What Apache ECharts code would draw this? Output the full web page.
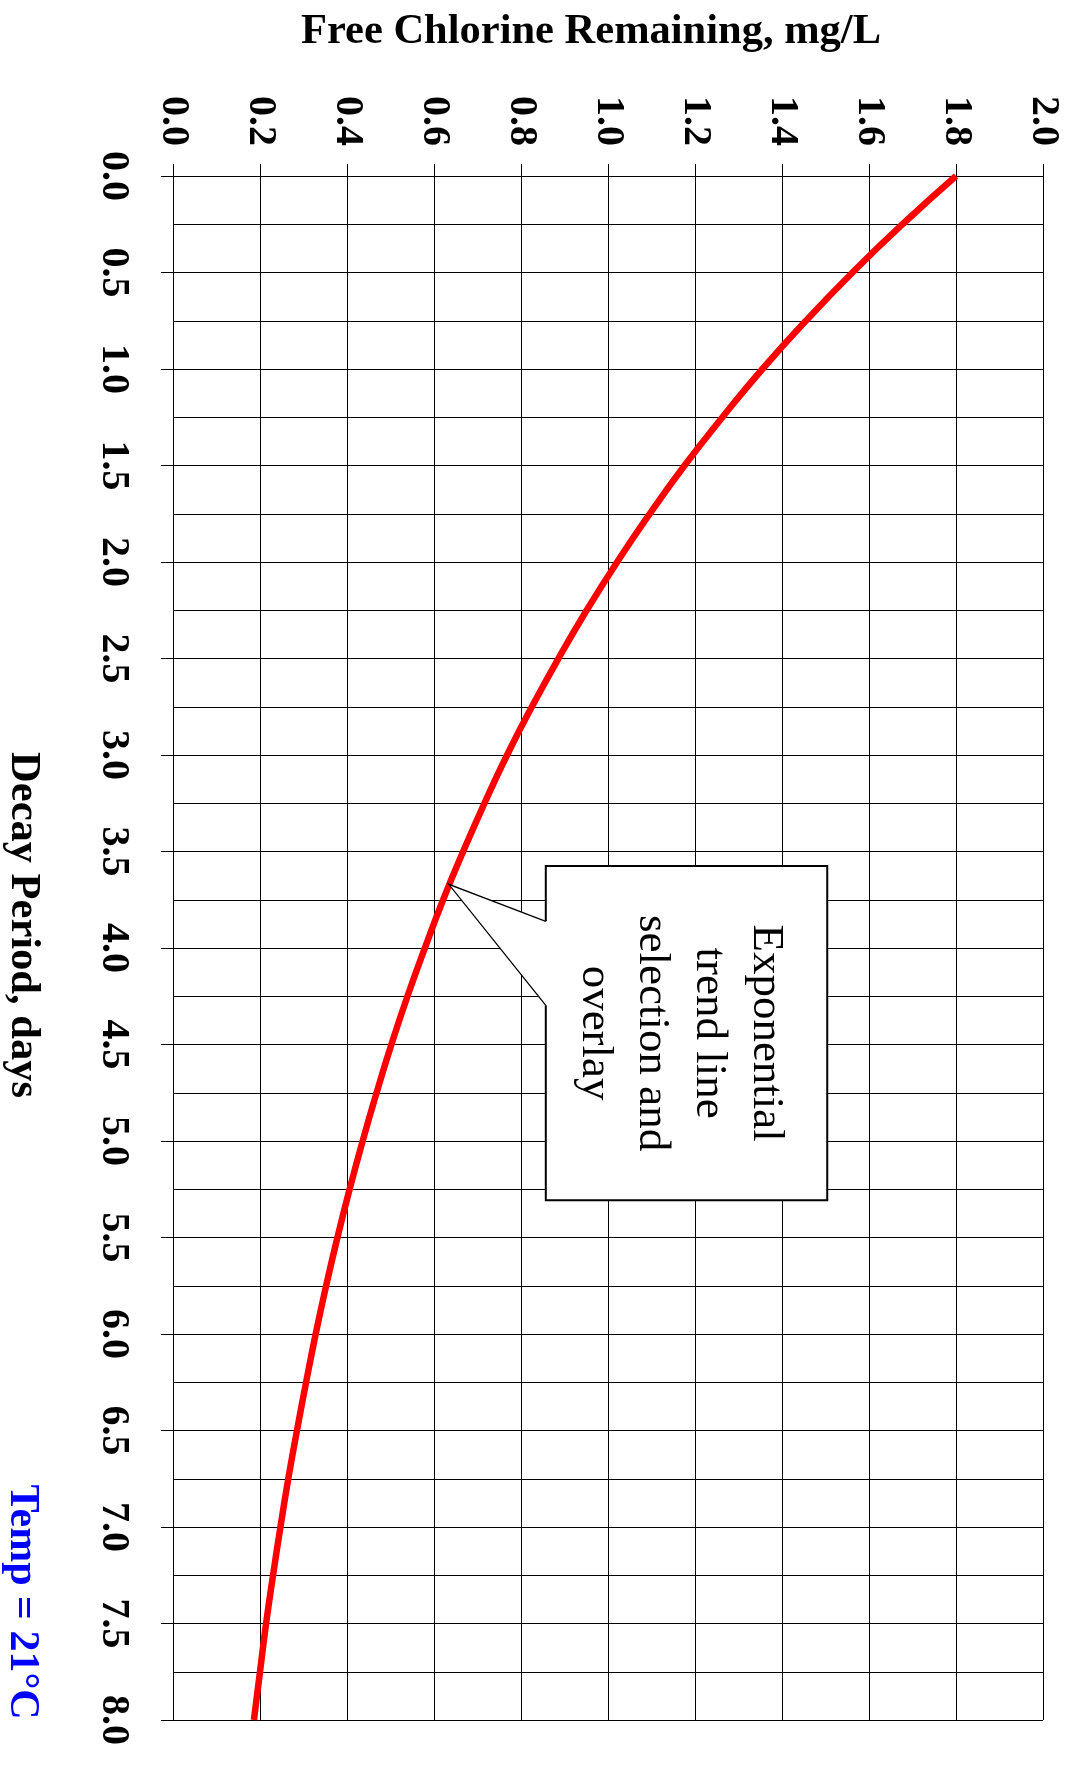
<!DOCTYPE html>
<html>
<head>
<meta charset="utf-8">
<script src="https://cdn.jsdelivr.net/npm/echarts@6/dist/echarts.min.js"></script>
<style>
  html, body { margin: 0; padding: 0; background: #fff; }
  #chart { width: 1069px; height: 1765px; }
</style>
</head>
<body>
<div id="chart"></div>
<script>
// Decay period (days) and free chlorine remaining (mg/L) along the trend line
const decayDays = [0, 0.25, 0.5, 0.75, 1.0, 1.25, 1.5, 1.75, 2.0, 2.25, 2.5, 2.75, 3.0, 3.25, 3.5, 3.75,
                   4.0, 4.25, 4.5, 4.75, 5.0, 5.25, 5.5, 5.75, 6.0, 6.25, 6.5, 6.75, 7.0, 7.25, 7.5, 7.75, 8.0];
const chlorine  = [1.800, 1.677, 1.562, 1.455, 1.355, 1.263, 1.176, 1.096, 1.021, 0.951, 0.886, 0.825, 0.768, 0.716, 0.667, 0.621,
                   0.579, 0.539, 0.502, 0.468, 0.436, 0.406, 0.378, 0.352, 0.328, 0.306, 0.285, 0.265, 0.247, 0.230, 0.214, 0.200, 0.186];

// Axis ranges and tick steps
const chlorineTicks = { min: 0, max: 2.0, step: 0.2 };
const dayTicks = { min: 0, max: 8.0, step: 0.5 };

// Callout text and where it points to (in data units: [mg/L, days])
const calloutLines = ['Exponential', 'trend line', 'selection and', 'overlay'];
const calloutTip = [0.634, 3.67];
const calloutBox = { left: 0.857, right: 1.504, top: 3.575, bottom: 5.307, notchTop: 3.862, notchBottom: 4.297 };

const titleText = 'Free Chlorine Remaining, mg/L';
const daysText = 'Decay Period, days';
const tempText = 'Temp = 21°C';

const SERIF = '"Liberation Serif", "Times New Roman", serif';
const chart = echarts.init(document.getElementById('chart'), null, { renderer: 'canvas' });

const gridLine = { color: '#000', width: 1 };

chart.setOption({
  backgroundColor: '#fff',
  animation: false,
  grid: { left: 173, top: 176, right: 26, bottom: 45, containLabel: false },
  xAxis: {
    type: 'value',
    position: 'top',
    min: chlorineTicks.min, max: chlorineTicks.max, interval: chlorineTicks.step,
    axisLine: { show: true, lineStyle: gridLine },
    axisTick: { show: true, length: 12, lineStyle: gridLine },
    splitLine: { show: true, lineStyle: gridLine },
    axisLabel: {
      rotate: -90, margin: 30,
      formatter: v => v.toFixed(1),
      fontFamily: SERIF, fontWeight: 'bold', fontSize: 40, color: '#000'
    }
  },
  yAxis: {
    type: 'value',
    inverse: true,
    min: dayTicks.min, max: dayTicks.max, interval: dayTicks.step,
    axisLine: { show: true, lineStyle: gridLine },
    axisTick: { show: true, length: 12, lineStyle: gridLine },
    splitLine: { show: true, lineStyle: gridLine },
    minorTick: { show: false, splitNumber: 2 },
    minorSplitLine: { show: true, lineStyle: gridLine },
    axisLabel: {
      rotate: -90, margin: 40,
      formatter: v => v.toFixed(1),
      fontFamily: SERIF, fontWeight: 'bold', fontSize: 40, color: '#000'
    }
  },
  series: [{
    type: 'line',
    data: decayDays.map((d, i) => [chlorine[i], d]),
    smooth: true,
    showSymbol: false,
    lineStyle: { color: '#ff0000', width: 6.5, cap: 'butt' },
    z: 5
  }]
});

// Callout and free-standing labels, placed through the chart's own scales
function px(v, d) { return chart.convertToPixel({ gridIndex: 0 }, [v, d]); }
const tip = px(calloutTip[0], calloutTip[1]);
const tl = px(calloutBox.left, calloutBox.top);
const br = px(calloutBox.right, calloutBox.bottom);
const nTop = px(calloutBox.left, calloutBox.notchTop);
const nBot = px(calloutBox.left, calloutBox.notchBottom);
const L = tl[0], T = tl[1], R = br[0], B = br[1];

chart.setOption({
  graphic: [
    {
      type: 'polygon', z: 10,
      shape: { points: [[L, T], [R, T], [R, B], [L, B], [L, nBot[1]], tip, [L, nTop[1]]] },
      style: { fill: '#fff', stroke: null }
    },
    {
      type: 'polyline', z: 11,
      shape: { points: [[L, nTop[1]], [L, T], [R, T], [R, B], [L, B], [L, nBot[1]]] },
      style: { stroke: '#000', lineWidth: 2, fill: null }
    },
    {
      type: 'polyline', z: 11,
      shape: { points: [[L, nBot[1]], tip, [L, nTop[1]]] },
      style: { stroke: '#000', lineWidth: 1.3, fill: null }
    },
    {
      type: 'text', z: 12,
      x: (L + R) / 2 - 6, y: (T + B) / 2,
      rotation: -Math.PI / 2,
      style: {
        text: calloutLines.join('\n'),
        fontFamily: SERIF, fontSize: 45, lineHeight: 57,
        fill: '#000', align: 'center', verticalAlign: 'middle'
      }
    },
    {
      type: 'text',
      x: 591, y: 32,
      style: {
        text: titleText, fontFamily: SERIF, fontWeight: 'bold', fontSize: 42.5,
        fill: '#000', align: 'center', verticalAlign: 'middle'
      }
    },
    {
      type: 'text',
      x: 23, y: 925,
      rotation: -Math.PI / 2,
      style: {
        text: daysText, fontFamily: SERIF, fontWeight: 'bold', fontSize: 42.5,
        fill: '#000', align: 'center', verticalAlign: 'middle'
      }
    },
    {
      type: 'text',
      x: 22, y: 1602,
      rotation: -Math.PI / 2,
      style: {
        text: tempText, fontFamily: SERIF, fontWeight: 'bold', fontSize: 42,
        fill: '#0000ff', align: 'center', verticalAlign: 'middle'
      }
    }
  ]
});
</script>
</body>
</html>
